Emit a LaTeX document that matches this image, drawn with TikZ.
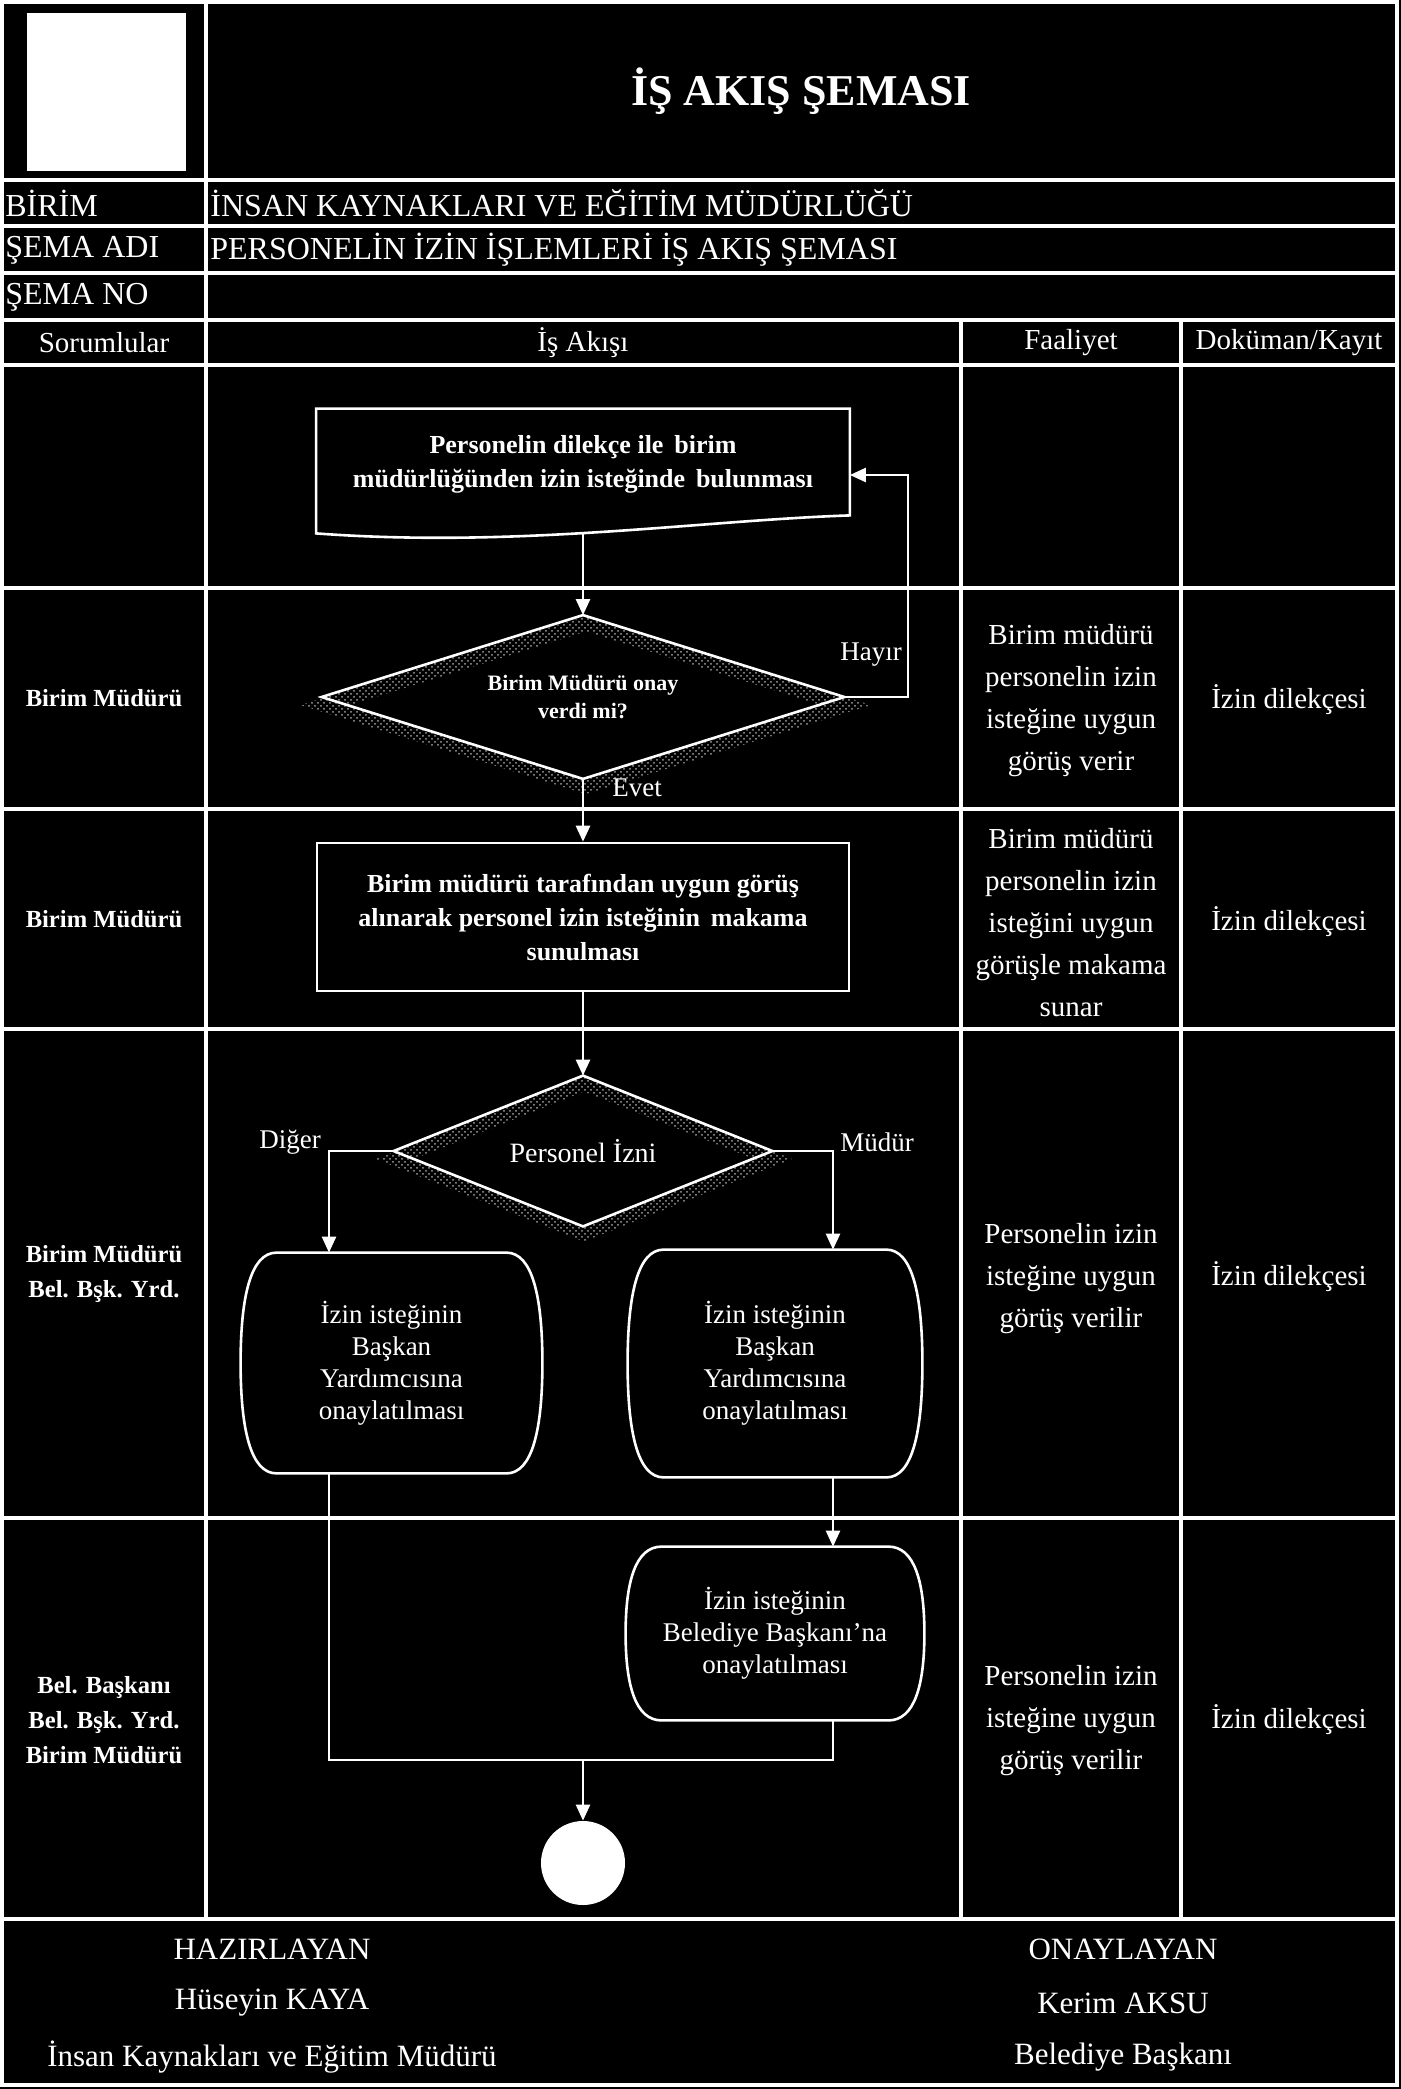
\documentclass[tikz,border=0pt]{standalone}
\usepackage{fontspec}
\setmainfont{Liberation Serif}
\usetikzlibrary{arrows.meta,patterns,calc}
\tikzset{
 tbl/.style={draw=white, line width=1.6pt},
 flow/.style={draw=white, line width=1.3pt},
 arr/.style={flow, -{Triangle[length=8pt,width=7pt]}},
 txt/.style={text=white, inner sep=0pt, align=center},
 ttl/.style={txt, font=\bfseries\fontsize{22}{26}\selectfont},
 info/.style={txt, font=\fontsize{16}{19}\selectfont},
 colhead/.style={txt, font=\fontsize{14.5}{17}\selectfont},
 resp/.style={txt, font=\bfseries\fontsize{12.3}{17.5}\selectfont},
 act/.style={txt, font=\fontsize{14.5}{21}\selectfont},
 boxtext/.style={txt, font=\bfseries\fontsize{13}{17}\selectfont},
 qtext/.style={txt, font=\bfseries\fontsize{11}{14}\selectfont},
 termtext/.style={txt, font=\fontsize{13.5}{16}\selectfont},
 lbl/.style={txt, font=\fontsize{13.5}{16}\selectfont},
 foot/.style={txt, font=\fontsize{15.5}{18}\selectfont},
 anchorbox/.style={inner sep=0pt, draw=none},
 shadowfill/.style={pattern=crosshatch dots, pattern color=gray!75, even odd rule},
}
\newcommand\bulgebox[1]{%
 \draw[flow] let \p1=(#1.north west), \p2=(#1.south east) in
  (\x1+18pt,\y1) -- (\x2-18pt,\y1)
  .. controls (\x2-5pt,\y1) and (\x2,{\y1-0.2*(\y1-\y2)}) .. (\x2,{0.5*(\y1+\y2)})
  .. controls (\x2,{\y2+0.2*(\y1-\y2)}) and (\x2-5pt,\y2) .. (\x2-18pt,\y2)
  -- (\x1+18pt,\y2)
  .. controls (\x1+5pt,\y2) and (\x1,{\y2+0.2*(\y1-\y2)}) .. (\x1,{0.5*(\y1+\y2)})
  .. controls (\x1,{\y1-0.2*(\y1-\y2)}) and (\x1+5pt,\y1) .. (\x1+18pt,\y1) -- cycle;}
\begin{document}
\begin{tikzpicture}[x=0.5pt,y=-0.5pt]
\useasboundingbox (0,0) rectangle (1401,2089);
\fill[black] (0,0) rectangle (1401,2089);

% table
\draw[tbl] (2,2) rectangle (1397,2085);
\foreach \r in {180,226,273,320,365,588,809,1029,1518,1919}
  \draw[tbl] (2,\r) -- (1397,\r);
\draw[tbl] (206,2) -- (206,1919);
\draw[tbl] (961,320) -- (961,1919);
\draw[tbl] (1181,320) -- (1181,1919);

% header
\node[fill=white, minimum width=79.5pt, minimum height=79pt, inner sep=0pt] (logo) at (106.5,92) {};
\node[ttl] (title) at (801,91) {İŞ AKIŞ ŞEMASI};
\node[info, anchor=west] (birimL) at (5,203) {BİRİM};
\node[info, anchor=west] (birimV) at (210,203) {İNSAN KAYNAKLARI VE EĞİTİM MÜDÜRLÜĞÜ};
\node[info, anchor=west] (adL) at (5,250) {ŞEMA ADI};
\node[info, anchor=west] (adV) at (210,250) {PERSONELİN İZİN İŞLEMLERİ İŞ AKIŞ ŞEMASI};
\node[info, anchor=west] (noL) at (5,297) {ŞEMA NO};
\node[colhead] (h1) at (104,343) {Sorumlular};
\node[colhead] (h2) at (583,343) {İş Akışı};
\node[colhead] (h3) at (1071,343) {Faaliyet};
\node[colhead] (h4) at (1289,343) {Doküman/Kayıt};

% responsibles
\node[resp] (s2) at (104,698) {Birim Müdürü};
\node[resp] (s3) at (104,919) {Birim Müdürü};
\node[resp] (s4) at (104,1274) {Birim Müdürü\\Bel. Bşk. Yrd.};
\node[resp] (s5) at (104,1720) {Bel. Başkanı\\Bel. Bşk. Yrd.\\Birim Müdürü};

% activities
\node[act] (f2) at (1071,701) {Birim müdürü\\personelin izin\\isteğine uygun\\görüş verir};
\node[act] (f3) at (1071,923) {Birim müdürü\\personelin izin\\isteğini uygun\\görüşle makama\\sunar};
\node[act] (f4) at (1071,1279) {Personelin izin\\isteğine uygun\\görüş verilir};
\node[act] (f5) at (1071,1721) {Personelin izin\\isteğine uygun\\görüş verilir};
\node[act] (k2) at (1289,700) {İzin dilekçesi};
\node[act] (k3) at (1289,922) {İzin dilekçesi};
\node[act] (k4) at (1289,1277) {İzin dilekçesi};
\node[act] (k5) at (1289,1720) {İzin dilekçesi};

% shadows of decisions
\path[shadowfill] (586,616) -- (871,705) -- (586,794) -- (300,705) -- cycle
                  (586,631.5) -- (821,705) -- (586,778.5) -- (350,705) -- cycle;
\path[shadowfill] (584,1076.5) -- (792,1159) -- (584,1241.5) -- (376,1159) -- cycle
                  (584,1091.5) -- (754,1159) -- (584,1226.5) -- (414,1159) -- cycle;

% flow shapes
\node[anchorbox, minimum width=266.5pt, minimum height=62pt] (doc) at (583,471) {};
\node[boxtext] (doctext) at (583,464) {Personelin dilekçe ile\, birim\\müdürlüğünden izin isteğinde\, bulunması};
\draw[flow] let \p1=(doc.north west), \p2=(doc.south east) in
  (\x1,\y1) -- (\x2,\y1) -- (\x2,\y2+9pt)
  .. controls (\x2-75pt,\y2+6.5pt) and (\x1+101pt,\y2-7.5pt) .. (\x1,\y2) -- cycle;

\node[anchorbox, minimum width=261pt, minimum height=81.5pt, qtext] (d1) at (583,697) {Birim Müdürü onay\\verdi mi?};
\draw[flow] (d1.north) -- (d1.east) -- (d1.south) -- (d1.west) -- cycle;

\node[anchorbox, draw=white, line width=1.3pt, minimum width=266pt, minimum height=74pt, boxtext] (proc) at (583,917)
  {Birim müdürü tarafından uygun görüş\\alınarak personel izin isteğinin\, makama\\sunulması};

\node[anchorbox, minimum width=189pt, minimum height=75pt, font=\fontsize{14}{16}\selectfont, text=white] (d2) at (583,1151) {Personel İzni};
\draw[flow] (d2.north) -- (d2.east) -- (d2.south) -- (d2.west) -- cycle;

\node[anchorbox, minimum width=150.5pt, minimum height=110pt, termtext] (t1) at (391.5,1363)
  {İzin isteğinin\\Başkan\\Yardımcısına\\onaylatılması};
\bulgebox{t1}
\node[anchorbox, minimum width=147pt, minimum height=113.5pt, termtext] (t2) at (775,1363.5)
  {İzin isteğinin\\Başkan\\Yardımcısına\\onaylatılması};
\bulgebox{t2}
\node[anchorbox, minimum width=149pt, minimum height=86.5pt, termtext] (t3) at (775,1633.5)
  {İzin isteğinin\\Belediye Başkanı'na\\onaylatılması};
\bulgebox{t3}
\node[circle, fill=white, minimum size=42pt, inner sep=0pt] (end) at (583,1863) {};

% connectors
\coordinate (hayirc) at (908,475);
\coordinate (j) at (583,1760);
\draw[arr] (doc.south) -- (d1.north);
\draw[arr] (d1.east) -| (hayirc) -- (doc.east |- hayirc);
\draw[arr] (d1.south) -- (proc.north);
\draw[arr] (proc.south) -- (d2.north);
\draw[arr] (d2.west) -| ([xshift=-31.25pt]t1.north);
\draw[arr] (d2.east) -| ([xshift=29pt]t2.north);
\draw[arr] ([xshift=29pt]t2.south) -- ([xshift=29pt]t3.north);
\draw[flow] ([xshift=-31.25pt]t1.south) |- (j);
\draw[flow] ([xshift=29pt]t3.south) |- (j);
\draw[arr] (j) -- (end.north);

% labels
\node[lbl] (hayir) at (871,655) {Hayır};
\node[lbl] (evet) at (637,788) {Evet};
\node[lbl] (diger) at (290,1142) {Diğer};
\node[lbl] (mudur) at (877,1142) {Müdür};

% footer
\node[foot] (fa1) at (272,1949) {HAZIRLAYAN};
\node[foot] (fa2) at (272,2003) {Hüseyin KAYA};
\node[foot] (fa3) at (272,2057) {İnsan Kaynakları ve Eğitim Müdürü};
\node[foot] (fb1) at (1123,1949) {ONAYLAYAN};
\node[foot] (fb2) at (1123,2003) {Kerim AKSU};
\node[foot] (fb3) at (1123,2057) {Belediye Başkanı};
\end{tikzpicture}
\end{document}
